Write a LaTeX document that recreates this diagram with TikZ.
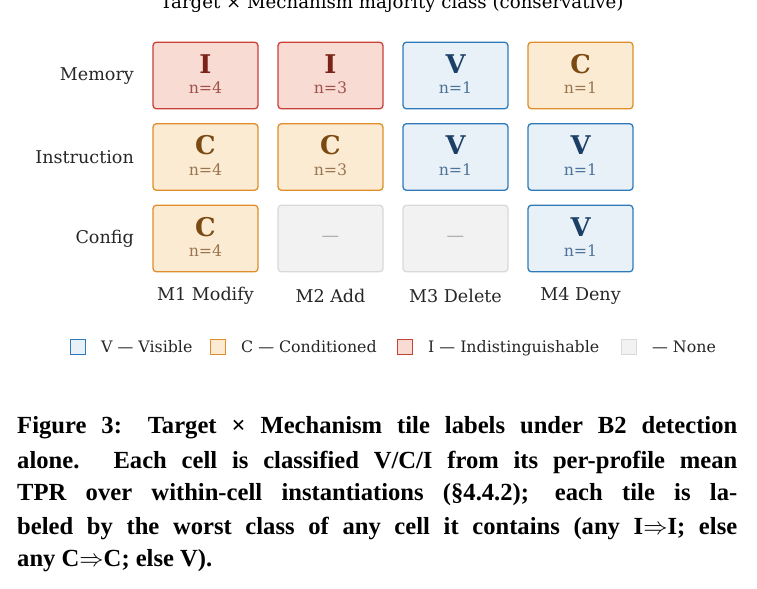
\documentclass[tikz,border=0pt]{standalone}
\usepackage{fontspec}
\setmainfont{DejaVu Serif}
\newfontfamily\capfont{Liberation Serif}
\begin{document}
\begin{tikzpicture}[x=0.03cm,y=-0.03cm,
 tile/.style={draw,line width=1.1pt,rounded corners=3pt,minimum width=3.15cm,minimum height=2.0cm,inner sep=0pt},
 rl/.style={anchor=east,font=\fontsize{15}{17}\selectfont,text=black!85},
 cl/.style={font=\fontsize{15}{17}\selectfont,text=black!85},
 lg/.style={anchor=base west,font=\fontsize{13.5}{15}\selectfont,text=black!85},
 sq/.style={draw,line width=0.8pt,minimum size=0.45cm,inner sep=0pt},
 big/.style={font=\fontsize{22}{24}\selectfont\bfseries},
 sml/.style={font=\fontsize{13.5}{15}\selectfont}]
\definecolor{rF}{HTML}{F8DCD4}\definecolor{rB}{HTML}{C94038}\definecolor{rT}{HTML}{7B2318}\definecolor{rN}{HTML}{A0524A}
\definecolor{oF}{HTML}{FCEBD3}\definecolor{oB}{HTML}{E08E2B}\definecolor{oT}{HTML}{7A4A12}\definecolor{oN}{HTML}{9A7650}
\definecolor{bF}{HTML}{E8F0F8}\definecolor{bB}{HTML}{2E7AB8}\definecolor{bT}{HTML}{1C3F66}\definecolor{bN}{HTML}{4D7399}
\definecolor{gF}{HTML}{F2F2F2}\definecolor{gB}{HTML}{D9D9D9}\definecolor{gT}{HTML}{AAAAAA}
\tikzset{
 I/.style={tile,fill=rF,draw=rB},C/.style={tile,fill=oF,draw=oB},V/.style={tile,fill=bF,draw=bB},N/.style={tile,fill=gF,draw=gB}}
\useasboundingbox (0,0) rectangle (757,588);
\node[font=\fontsize{15.5}{17}\selectfont] (title) at (392,4) {Target × Mechanism majority class (conservative)};
\node[rl] (r1) at (138,76) {Memory};
\node[rl] (r2) at (138,157) {Instruction};
\node[rl] (r3) at (138,239) {Config};
\node[I] (t11) at (205.5,75.5) {};\node[big,text=rT] at (205.5,64) {I};\node[sml,text=rN] at (205.5,88) {n=4};
\node[I] (t12) at (330.5,75.5) {};\node[big,text=rT] at (330.5,64) {I};\node[sml,text=rN] at (330.5,88) {n=3};
\node[V] (t13) at (455.5,75.5) {};\node[big,text=bT] at (455.5,64) {V};\node[sml,text=bN] at (455.5,88) {n=1};
\node[C] (t14) at (580.5,75.5) {};\node[big,text=oT] at (580.5,64) {C};\node[sml,text=oN] at (580.5,88) {n=1};
\node[C] (t21) at (205.5,157) {};\node[big,text=oT] at (205.5,145.5) {C};\node[sml,text=oN] at (205.5,169.5) {n=4};
\node[C] (t22) at (330.5,157) {};\node[big,text=oT] at (330.5,145.5) {C};\node[sml,text=oN] at (330.5,169.5) {n=3};
\node[V] (t23) at (455.5,157) {};\node[big,text=bT] at (455.5,145.5) {V};\node[sml,text=bN] at (455.5,169.5) {n=1};
\node[V] (t24) at (580.5,157) {};\node[big,text=bT] at (580.5,145.5) {V};\node[sml,text=bN] at (580.5,169.5) {n=1};
\node[C] (t31) at (205.5,238.5) {};\node[big,text=oT] at (205.5,227) {C};\node[sml,text=oN] at (205.5,251) {n=4};
\node[N] (t32) at (330.5,238.5) {};\node[text=gT,font=\fontsize{15}{17}\selectfont] at (t32) {---};
\node[N] (t33) at (455.5,238.5) {};\node[text=gT,font=\fontsize{15}{17}\selectfont] at (t33) {---};
\node[V] (t34) at (580.5,238.5) {};\node[big,text=bT] at (580.5,227) {V};\node[sml,text=bN] at (580.5,251) {n=1};
\node[cl] (c1) at (205.5,296) {M1 Modify};
\node[cl] (c2) at (330.5,296) {M2 Add};
\node[cl] (c3) at (455.5,296) {M3 Delete};
\node[cl] (c4) at (580.5,296) {M4 Deny};
\node[sq,fill=bF,draw=bB] (s1) at (78,347) {};\node[lg] (l1) at (97,352) {V --- Visible};
\node[sq,fill=oF,draw=oB] (s2) at (218,347) {};\node[lg] (l2) at (237,352) {C --- Conditioned};
\node[sq,fill=rF,draw=rB] (s3) at (405,347) {};\node[lg] (l3) at (424,352) {I --- Indistinguishable};
\node[sq,fill=gF,draw=gB] (s4) at (629,347) {};\node[lg] (l4) at (648,352) {--- None};
\tikzset{captxt/.style={anchor=west,inner sep=0pt,font=\capfont\bfseries\fontsize{21}{24}\selectfont}}
\node[captxt] (p1) at (17,428) {\makebox[21.6cm][s]{Figure 3: Target × Mechanism tile labels under B2 detection}};
\node[captxt] (p2) at (17,462) {\makebox[21.6cm][s]{alone. Each cell is classified V/C/I from its per-profile mean}};
\node[captxt] (p3) at (17,495) {\makebox[21.6cm][s]{TPR over within-cell instantiations (§4.4.2); each tile is la-}};
\node[captxt] (p4) at (17,528) {\makebox[21.6cm][s]{beled by the worst class of any cell it contains (any I$\Rightarrow$I; else}};
\node[captxt] (p5) at (17,561) {any C$\Rightarrow$C; else V).};
\end{tikzpicture}
\end{document}
